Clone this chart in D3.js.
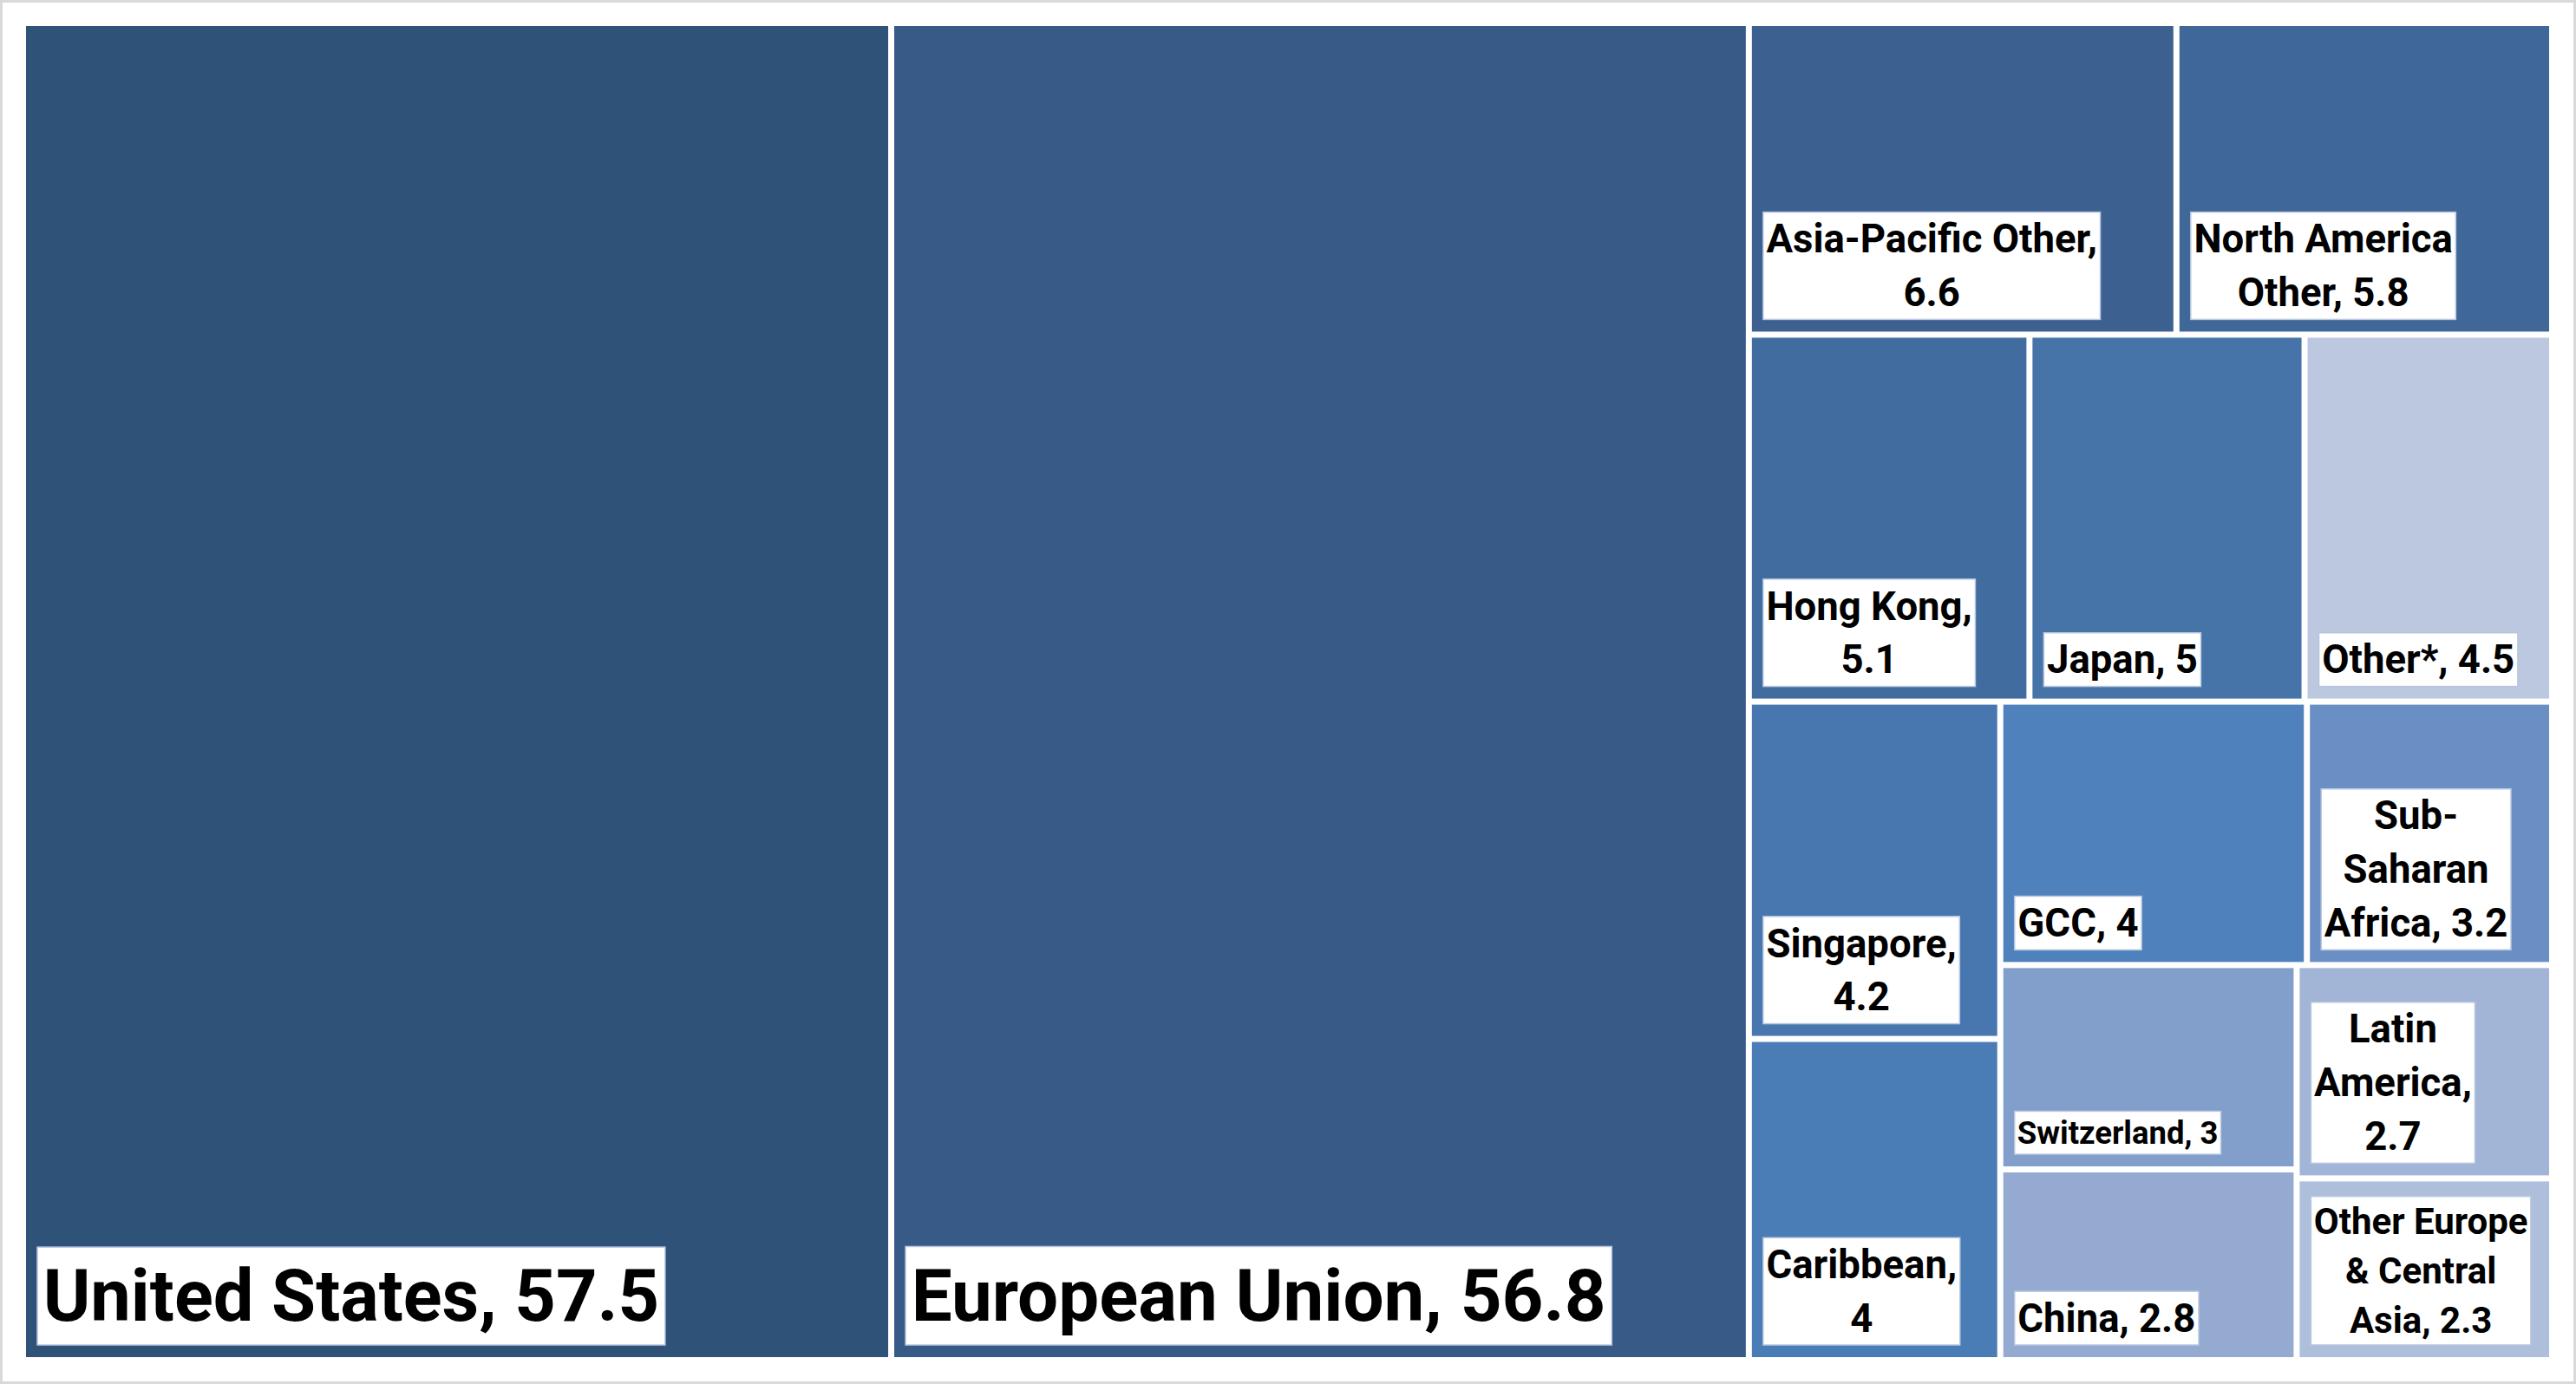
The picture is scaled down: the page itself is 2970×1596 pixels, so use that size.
<!DOCTYPE html>
<html><head><meta charset="utf-8">
<script src="https://cdn.jsdelivr.net/npm/d3@7"></script>
<style>
html,body{margin:0;padding:0;background:#fff;}
svg{display:block;}
text{font-family:Roboto,'Liberation Sans',Arial,sans-serif;font-weight:700;fill:#000;}
</style></head><body>
<svg id="chart" width="2970" height="1596"></svg>
<script>
const categories = ["United States","European Union","Asia-Pacific Other","North America Other","Hong Kong","Japan","Other*","Singapore","Caribbean","GCC","Sub-Saharan Africa","Switzerland","China","Latin America","Other Europe & Central Asia"];
const values = [57.5,56.8,6.6,5.8,5.1,5,4.5,4.2,4,4,3.2,3,2.8,2.7,2.3];
const labelLines = [
  ["United States, 57.5"],
  ["European Union, 56.8"],
  ["Asia-Pacific Other,","6.6"],
  ["North America","Other, 5.8"],
  ["Hong Kong,","5.1"],
  ["Japan, 5"],
  ["Other*, 4.5"],
  ["Singapore,","4.2"],
  ["Caribbean,","4"],
  ["GCC, 4"],
  ["Sub-","Saharan","Africa, 3.2"],
  ["Switzerland, 3"],
  ["China, 2.8"],
  ["Latin","America,","2.7"],
  ["Other Europe","& Central","Asia, 2.3"]
];
const tileColors = ["#2f5279","#375a86","#3c6190","#3f6798","#416c9f","#4674a8","#bcc8e0","#4877b0","#4a7cb6","#4f82bd","#6a8fc4","#819fca","#95aad1","#a3b5d7","#aebfdc"];

// style (not data)
const fontSizes = {"United States":83,"European Union":83.5,"Switzerland":36.5,"Other Europe & Central Asia":42};
const defaultFont = 45.5;

const W = 2970, H = 1596;
const plot = {x:30, y:30, w:2909, h:1535};

const svg = d3.select("#chart");
svg.append("rect").attr("x",1.5).attr("y",1.5).attr("width",W-3).attr("height",H-3)
  .attr("fill","#fff").attr("stroke","#d9d9d9").attr("stroke-width",3);

const color = d3.scaleOrdinal(categories, tileColors);

const root = d3.hierarchy({children: categories.map((c,i)=>({name:c, value:values[i], lines:labelLines[i]}))})
  .sum(d => d.value || 0);

d3.treemap()
  .tile(d3.treemapSquarify.ratio(1))
  .size([plot.w, plot.h])
  .paddingInner(7)
  .round(false)(root);

const g = svg.append("g").attr("transform",`translate(${plot.x},${plot.y})`);

const leaf = g.selectAll("g.leaf").data(root.leaves()).join("g").attr("class","leaf");

leaf.append("rect")
  .attr("x", d => d.x0).attr("y", d => d.y0)
  .attr("width", d => d.x1 - d.x0).attr("height", d => d.y1 - d.y0)
  .attr("fill", d => color(d.data.name));

leaf.each(function(d){
  const sel = d3.select(this);
  const fs = fontSizes[d.data.name] || defaultFont;
  const L = fs * 1.36;
  const lines = d.data.lines;
  const boxH = lines.length * L;
  const lbl = sel.append("g");
  const texts = lines.map(t => lbl.append("text").attr("font-size", fs).text(t));
  const maxW = d3.max(texts, t => t.node().getComputedTextLength());
  const pad = Math.max(3, fs * 0.08);
  const boxW = maxW + 2*pad;
  const bx = d.x0 + 13;
  const by = d.y1 - 14 - boxH;
  lbl.insert("rect", "text")
    .attr("x", bx).attr("y", by).attr("width", boxW).attr("height", boxH)
    .attr("fill", "#fff").attr("stroke", "#b7c6df").attr("stroke-width", 1.5);
  texts.forEach((t, i) => {
    t.attr("x", bx + boxW/2).attr("text-anchor","middle")
     .attr("y", by + i*L + (L - 1.117*fs)/2 + 0.905*fs);
  });
});
</script>
</body></html>
